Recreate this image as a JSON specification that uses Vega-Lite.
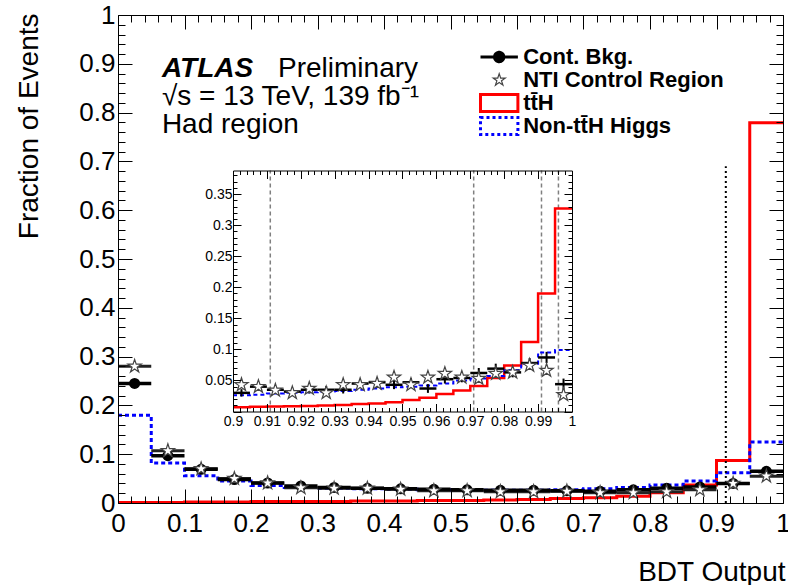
{
  "$schema": "https://vega.github.io/schema/vega-lite/v6.json",
  "width": 665,
  "height": 488,
  "autosize": {"type": "none"},
  "padding": {"left": 118, "top": 15, "right": 5, "bottom": 82},
  "background": "white",
  "config": {
    "font": "Liberation Sans",
    "view": {"stroke": null},
    "axis": {"grid": false, "domainColor": "black", "domainWidth": 1, "tickColor": "black", "tickWidth": 1, "labelColor": "black", "titleColor": "black", "labelFont": "Liberation Sans", "titleFont": "Liberation Sans", "titleFontWeight": "normal", "labelFlush": false, "labelOverlap": false, "labelBound": false}
  },
  "datasets": {
    "main": [
      {"series":"Cont. Bkg.","lo":0,"hi":0.05,"v":0.245},{"series":"Cont. Bkg.","lo":0.05,"hi":0.1,"v":0.097},{"series":"Cont. Bkg.","lo":0.1,"hi":0.15,"v":0.069},{"series":"Cont. Bkg.","lo":0.15,"hi":0.2,"v":0.048},{"series":"Cont. Bkg.","lo":0.2,"hi":0.25,"v":0.041},{"series":"Cont. Bkg.","lo":0.25,"hi":0.3,"v":0.035},{"series":"Cont. Bkg.","lo":0.3,"hi":0.35,"v":0.032},{"series":"Cont. Bkg.","lo":0.35,"hi":0.4,"v":0.030},{"series":"Cont. Bkg.","lo":0.4,"hi":0.45,"v":0.029},{"series":"Cont. Bkg.","lo":0.45,"hi":0.5,"v":0.028},{"series":"Cont. Bkg.","lo":0.5,"hi":0.55,"v":0.027},{"series":"Cont. Bkg.","lo":0.55,"hi":0.6,"v":0.026},{"series":"Cont. Bkg.","lo":0.6,"hi":0.65,"v":0.026},{"series":"Cont. Bkg.","lo":0.65,"hi":0.7,"v":0.025},{"series":"Cont. Bkg.","lo":0.7,"hi":0.75,"v":0.024},{"series":"Cont. Bkg.","lo":0.75,"hi":0.8,"v":0.027},{"series":"Cont. Bkg.","lo":0.8,"hi":0.85,"v":0.030},{"series":"Cont. Bkg.","lo":0.85,"hi":0.9,"v":0.033},{"series":"Cont. Bkg.","lo":0.9,"hi":0.95,"v":0.040},{"series":"Cont. Bkg.","lo":0.95,"hi":1,"v":0.065},
      {"series":"NTI Control Region","lo":0,"hi":0.05,"v":0.280},{"series":"NTI Control Region","lo":0.05,"hi":0.1,"v":0.107},{"series":"NTI Control Region","lo":0.1,"hi":0.15,"v":0.070},{"series":"NTI Control Region","lo":0.15,"hi":0.2,"v":0.050},{"series":"NTI Control Region","lo":0.2,"hi":0.25,"v":0.041},{"series":"NTI Control Region","lo":0.25,"hi":0.3,"v":0.031},{"series":"NTI Control Region","lo":0.3,"hi":0.35,"v":0.030},{"series":"NTI Control Region","lo":0.35,"hi":0.4,"v":0.030},{"series":"NTI Control Region","lo":0.4,"hi":0.45,"v":0.028},{"series":"NTI Control Region","lo":0.45,"hi":0.5,"v":0.025},{"series":"NTI Control Region","lo":0.5,"hi":0.55,"v":0.025},{"series":"NTI Control Region","lo":0.55,"hi":0.6,"v":0.023},{"series":"NTI Control Region","lo":0.6,"hi":0.65,"v":0.023},{"series":"NTI Control Region","lo":0.65,"hi":0.7,"v":0.024},{"series":"NTI Control Region","lo":0.7,"hi":0.75,"v":0.021},{"series":"NTI Control Region","lo":0.75,"hi":0.8,"v":0.021},{"series":"NTI Control Region","lo":0.8,"hi":0.85,"v":0.023},{"series":"NTI Control Region","lo":0.85,"hi":0.9,"v":0.027},{"series":"NTI Control Region","lo":0.9,"hi":0.95,"v":0.040},{"series":"NTI Control Region","lo":0.95,"hi":1,"v":0.055},
      {"series":"tt̄H","lo":0,"hi":0.05,"v":0.001},{"series":"tt̄H","lo":0.05,"hi":0.1,"v":0.001},{"series":"tt̄H","lo":0.1,"hi":0.15,"v":0.002},{"series":"tt̄H","lo":0.15,"hi":0.2,"v":0.002},{"series":"tt̄H","lo":0.2,"hi":0.25,"v":0.003},{"series":"tt̄H","lo":0.25,"hi":0.3,"v":0.003},{"series":"tt̄H","lo":0.3,"hi":0.35,"v":0.003},{"series":"tt̄H","lo":0.35,"hi":0.4,"v":0.004},{"series":"tt̄H","lo":0.4,"hi":0.45,"v":0.004},{"series":"tt̄H","lo":0.45,"hi":0.5,"v":0.005},{"series":"tt̄H","lo":0.5,"hi":0.55,"v":0.005},{"series":"tt̄H","lo":0.55,"hi":0.6,"v":0.006},{"series":"tt̄H","lo":0.6,"hi":0.65,"v":0.007},{"series":"tt̄H","lo":0.65,"hi":0.7,"v":0.009},{"series":"tt̄H","lo":0.7,"hi":0.75,"v":0.011},{"series":"tt̄H","lo":0.75,"hi":0.8,"v":0.014},{"series":"tt̄H","lo":0.8,"hi":0.85,"v":0.021},{"series":"tt̄H","lo":0.85,"hi":0.9,"v":0.037},{"series":"tt̄H","lo":0.9,"hi":0.95,"v":0.087},{"series":"tt̄H","lo":0.95,"hi":1,"v":0.779},
      {"series":"Non-tt̄H Higgs","lo":0,"hi":0.05,"v":0.180},{"series":"Non-tt̄H Higgs","lo":0.05,"hi":0.1,"v":0.082},{"series":"Non-tt̄H Higgs","lo":0.1,"hi":0.15,"v":0.056},{"series":"Non-tt̄H Higgs","lo":0.15,"hi":0.2,"v":0.045},{"series":"Non-tt̄H Higgs","lo":0.2,"hi":0.25,"v":0.036},{"series":"Non-tt̄H Higgs","lo":0.25,"hi":0.3,"v":0.032},{"series":"Non-tt̄H Higgs","lo":0.3,"hi":0.35,"v":0.030},{"series":"Non-tt̄H Higgs","lo":0.35,"hi":0.4,"v":0.029},{"series":"Non-tt̄H Higgs","lo":0.4,"hi":0.45,"v":0.028},{"series":"Non-tt̄H Higgs","lo":0.45,"hi":0.5,"v":0.027},{"series":"Non-tt̄H Higgs","lo":0.5,"hi":0.55,"v":0.026},{"series":"Non-tt̄H Higgs","lo":0.55,"hi":0.6,"v":0.026},{"series":"Non-tt̄H Higgs","lo":0.6,"hi":0.65,"v":0.026},{"series":"Non-tt̄H Higgs","lo":0.65,"hi":0.7,"v":0.027},{"series":"Non-tt̄H Higgs","lo":0.7,"hi":0.75,"v":0.029},{"series":"Non-tt̄H Higgs","lo":0.75,"hi":0.8,"v":0.032},{"series":"Non-tt̄H Higgs","lo":0.8,"hi":0.85,"v":0.037},{"series":"Non-tt̄H Higgs","lo":0.85,"hi":0.9,"v":0.045},{"series":"Non-tt̄H Higgs","lo":0.9,"hi":0.95,"v":0.062},{"series":"Non-tt̄H Higgs","lo":0.95,"hi":1,"v":0.125}
    ],
    "inset": [
      {"lo":0.9,"hi":0.905,"tth":0.007,"non":0.026,"bkg":0.030,"nti":0.043,"e":0.006},
      {"lo":0.905,"hi":0.91,"tth":0.0075,"non":0.027,"bkg":0.040,"nti":0.040,"e":0.006},
      {"lo":0.91,"hi":0.915,"tth":0.008,"non":0.029,"bkg":0.035,"nti":0.034,"e":0.006},
      {"lo":0.915,"hi":0.92,"tth":0.0085,"non":0.030,"bkg":0.032,"nti":0.030,"e":0.006},
      {"lo":0.92,"hi":0.925,"tth":0.009,"non":0.031,"bkg":0.035,"nti":0.037,"e":0.006},
      {"lo":0.925,"hi":0.93,"tth":0.0095,"non":0.032,"bkg":0.035,"nti":0.030,"e":0.006},
      {"lo":0.93,"hi":0.935,"tth":0.0105,"non":0.033,"bkg":0.035,"nti":0.043,"e":0.006},
      {"lo":0.935,"hi":0.94,"tth":0.012,"non":0.035,"bkg":0.045,"nti":0.043,"e":0.006},
      {"lo":0.94,"hi":0.945,"tth":0.013,"non":0.037,"bkg":0.047,"nti":0.045,"e":0.007},
      {"lo":0.945,"hi":0.95,"tth":0.015,"non":0.039,"bkg":0.043,"nti":0.055,"e":0.007},
      {"lo":0.95,"hi":0.955,"tth":0.0185,"non":0.040,"bkg":0.047,"nti":0.043,"e":0.007},
      {"lo":0.955,"hi":0.96,"tth":0.022,"non":0.042,"bkg":0.037,"nti":0.055,"e":0.007},
      {"lo":0.96,"hi":0.965,"tth":0.028,"non":0.045,"bkg":0.052,"nti":0.061,"e":0.007},
      {"lo":0.965,"hi":0.97,"tth":0.034,"non":0.050,"bkg":0.054,"nti":0.055,"e":0.007},
      {"lo":0.97,"hi":0.975,"tth":0.041,"non":0.053,"bkg":0.062,"nti":0.053,"e":0.008},
      {"lo":0.975,"hi":0.98,"tth":0.054,"non":0.057,"bkg":0.069,"nti":0.061,"e":0.008},
      {"lo":0.98,"hi":0.985,"tth":0.074,"non":0.067,"bkg":0.063,"nti":0.063,"e":0.008},
      {"lo":0.985,"hi":0.99,"tth":0.112,"non":0.077,"bkg":0.078,"nti":0.074,"e":0.008},
      {"lo":0.99,"hi":0.995,"tth":0.190,"non":0.095,"bkg":0.087,"nti":0.066,"e":0.009},
      {"lo":0.995,"hi":1,"tth":0.327,"non":0.099,"bkg":0.044,"nti":0.027,"e":0.009}
    ],
    "cut": [{"x": 0.914}],
    "insetCuts": [{"x": 0.911}, {"x": 0.971}, {"x": 0.991}, {"x": 0.996}]
  },
  "resolve": {"scale": {"x": "independent", "y": "independent"}},
  "layer": [
    {
      "data": {"name": "main"},
      "layer": [
        {
          "transform": [{"filter": "datum.series === 'tt̄H'"}, {"fold": ["lo", "hi"], "as": ["edge", "xe"]}],
          "mark": {"type": "line", "strokeWidth": 3},
          "encoding": {
            "x": {"field": "xe", "type": "quantitative", "scale": {"domain": [0, 1], "nice": false, "zero": false}, "axis": null},
            "y": {"field": "v", "type": "quantitative", "scale": {"domain": [0, 1], "nice": false, "zero": false}, "axis": null},
            "order": [{"field": "lo", "type": "quantitative"}, {"field": "edge", "type": "ordinal", "sort": "descending"}],
            "color": {"field": "series", "type": "nominal",
              "scale": {"domain": ["Cont. Bkg.", "NTI Control Region", "tt̄H", "Non-tt̄H Higgs"], "range": ["#000000", "#444444", "#ff0000", "#0000ff"]},
              "legend": {"orient": "none", "legendX": 360, "legendY": 31, "title": null, "padding": 0, "direction": "vertical",
                "labelFont": "Liberation Sans", "labelFontWeight": "bold", "labelFontSize": 22, "labelColor": "black", "labelLimit": 400,
                "symbolSize": 289, "symbolOffset": 10.2, "labelOffset": 13, "rowPadding": 1, "clipHeight": 22, "symbolStrokeWidth": 3,
                "encode": {"symbols": {"update": {
                  "shape": {"signal": "datum.value === 'Cont. Bkg.' ? 'M-2.2,0H2.2M-0.55,0A0.55,0.55,0,1,0,0.55,0A0.55,0.55,0,1,0,-0.55,0Z' : datum.value === 'NTI Control Region' ? 'M0,-0.75L0.169,-0.232L0.713,-0.232L0.272,0.089L0.441,0.607L0,0.287L-0.441,0.607L-0.272,0.089L-0.713,-0.232L-0.169,-0.232Z' : 'M-2.2,-1H2.2V1H-2.2Z'"},
                  "fill": {"signal": "datum.value === 'Cont. Bkg.' ? '#000000' : '#ffffff'"},
                  "fillOpacity": {"signal": "datum.value === 'Cont. Bkg.' ? 1 : 0"},
                  "stroke": {"signal": "datum.value === 'Cont. Bkg.' ? '#000000' : datum.value === 'NTI Control Region' ? '#444444' : datum.value === 'Non-tt̄H Higgs' ? '#0000ff' : '#ff0000'"},
                  "strokeWidth": {"signal": "datum.value === 'NTI Control Region' ? 1.2 : 3"},
                  "strokeDash": {"signal": "datum.value === 'Non-tt̄H Higgs' ? [3, 3] : [1, 0]"},
                  "opacity": {"value": 1}, "strokeOpacity": {"value": 1}
                }}}}
            }
          }
        },
        {
          "transform": [{"filter": "datum.series === 'Non-tt̄H Higgs'"}, {"fold": ["lo", "hi"], "as": ["edge", "xe"]}],
          "mark": {"type": "line", "strokeWidth": 3, "strokeDash": [4, 3]},
          "encoding": {
            "x": {"field": "xe", "type": "quantitative", "axis": null},
            "y": {"field": "v", "type": "quantitative", "axis": null},
            "order": [{"field": "lo", "type": "quantitative"}, {"field": "edge", "type": "ordinal", "sort": "descending"}],
            "color": {"field": "series", "type": "nominal"}
          }
        },
        {
          "data": {"name": "cut"},
          "mark": {"type": "rule", "color": "black", "strokeWidth": 2, "strokeDash": [2, 3]},
          "encoding": {
            "x": {"field": "x", "type": "quantitative", "axis": null},
            "y": {"datum": 0, "type": "quantitative", "axis": null},
            "y2": {"datum": 0.69}
          }
        },
        {
          "transform": [{"filter": "datum.series === 'NTI Control Region'"}],
          "mark": {"type": "rule", "color": "#222222", "strokeWidth": 3},
          "encoding": {
            "x": {"field": "lo", "type": "quantitative", "axis": null},
            "x2": {"field": "hi"},
            "y": {"field": "v", "type": "quantitative", "axis": null}
          }
        },
        {
          "transform": [{"filter": "datum.series === 'Cont. Bkg.'"}],
          "mark": {"type": "rule", "color": "black", "strokeWidth": 3.5},
          "encoding": {
            "x": {"field": "lo", "type": "quantitative", "axis": null},
            "x2": {"field": "hi"},
            "y": {"field": "v", "type": "quantitative", "axis": null}
          }
        },
        {
          "transform": [{"filter": "datum.series === 'Cont. Bkg.'"}, {"calculate": "(datum.lo + datum.hi) / 2", "as": "c"}],
          "mark": {"type": "point", "shape": "circle", "filled": true, "size": 121, "opacity": 1},
          "encoding": {
            "x": {"field": "c", "type": "quantitative", "axis": null},
            "y": {"field": "v", "type": "quantitative", "axis": null},
            "color": {"field": "series", "type": "nominal"}
          }
        },
        {
          "transform": [{"filter": "datum.series === 'NTI Control Region'"}, {"calculate": "(datum.lo + datum.hi) / 2", "as": "c"}],
          "mark": {"type": "point", "shape": "M0,-1L0.225,-0.309L0.951,-0.309L0.363,0.118L0.588,0.809L0,0.382L-0.588,0.809L-0.363,0.118L-0.951,-0.309L-0.225,-0.309Z", "filled": false, "fill": "white", "fillOpacity": 1, "size": 196, "strokeWidth": 1.2, "opacity": 1},
          "encoding": {
            "x": {"field": "c", "type": "quantitative", "axis": null},
            "y": {"field": "v", "type": "quantitative", "axis": null},
            "color": {"field": "series", "type": "nominal"}
          }
        },
        {
          "data": {"values": [{"t": "ATLAS"}]},
          "mark": {"type": "text", "align": "left", "baseline": "alphabetic", "fontSize": 28, "fontWeight": "bold", "fontStyle": "italic", "font": "Liberation Sans", "color": "black"},
          "encoding": {"x": {"datum": 0.066, "type": "quantitative", "axis": null}, "y": {"datum": 0.873, "type": "quantitative", "axis": null}, "text": {"field": "t"}}
        },
        {
          "data": {"values": [{"t": "Preliminary"}]},
          "mark": {"type": "text", "align": "left", "baseline": "alphabetic", "fontSize": 28, "font": "Liberation Sans", "color": "black"},
          "encoding": {"x": {"datum": 0.2406, "type": "quantitative", "axis": null}, "y": {"datum": 0.873, "type": "quantitative", "axis": null}, "text": {"field": "t"}}
        },
        {
          "data": {"values": [{"t": "√s = 13 TeV, 139 fb⁻¹"}]},
          "mark": {"type": "text", "align": "left", "baseline": "alphabetic", "fontSize": 28, "font": "Liberation Sans", "color": "black"},
          "encoding": {"x": {"datum": 0.066, "type": "quantitative", "axis": null}, "y": {"datum": 0.8156, "type": "quantitative", "axis": null}, "text": {"field": "t"}}
        },
        {
          "data": {"values": [{"t": "Had region"}]},
          "mark": {"type": "text", "align": "left", "baseline": "alphabetic", "fontSize": 28, "font": "Liberation Sans", "color": "black"},
          "encoding": {"x": {"datum": 0.066, "type": "quantitative", "axis": null}, "y": {"datum": 0.7576, "type": "quantitative", "axis": null}, "text": {"field": "t"}}
        }
      ]
    },
    {
      "data": {"name": "main"},
      "mark": {"type": "point", "opacity": 0},
      "encoding": {
        "x": {"field": "lo", "type": "quantitative", "scale": {"domain": [0, 1], "nice": false, "zero": false},
          "axis": {"orient": "bottom", "tickCount": 50, "zindex": 1,
            "labelExpr": "abs(datum.value*10-round(datum.value*10))<0.001 ? format(datum.value,'.1~f') : ''",
            "tickSize": {"condition": {"test": "abs(datum.value*10-round(datum.value*10))<0.001", "value": -14}, "value": -7},
            "labelFontSize": 26, "labelPadding": 21, "labelBaseline": "top", "labelAlign": "center",
            "title": "BDT Output", "titleFontSize": 28, "titleX": 667, "titleY": 77, "titleAlign": "right", "titleBaseline": "alphabetic", "titleAnchor": "end"}},
        "y": {"field": "v", "type": "quantitative", "scale": {"domain": [0, 1], "nice": false, "zero": false},
          "axis": {"orient": "left", "tickCount": 50, "zindex": 1,
            "labelExpr": "abs(datum.value*10-round(datum.value*10))<0.001 ? format(datum.value,'.1~f') : ''",
            "tickSize": {"condition": {"test": "abs(datum.value*10-round(datum.value*10))<0.001", "value": -14}, "value": -7},
            "labelFontSize": 26, "labelPadding": 17, "labelAlign": "right", "labelBaseline": "middle",
            "title": "Fraction of Events", "titleFontSize": 28, "titleAngle": 270, "titleAlign": "right", "titleBaseline": "alphabetic", "titleX": -81, "titleY": -2}}
      }
    },
    {
      "data": {"name": "main"},
      "mark": {"type": "point", "opacity": 0},
      "encoding": {
        "x": {"field": "lo", "type": "quantitative", "scale": {"domain": [0, 1], "nice": false, "zero": false},
          "axis": {"orient": "top", "tickCount": 50, "zindex": 1, "labels": false, "title": null,
            "tickSize": {"condition": {"test": "abs(datum.value*10-round(datum.value*10))<0.001", "value": -14}, "value": -7}}},
        "y": {"field": "v", "type": "quantitative", "scale": {"domain": [0, 1], "nice": false, "zero": false},
          "axis": {"orient": "right", "tickCount": 50, "zindex": 1, "labels": false, "title": null,
            "tickSize": {"condition": {"test": "abs(datum.value*10-round(datum.value*10))<0.001", "value": -14}, "value": -7}}}
      }
    },
    {
      "data": {"name": "inset"},
      "layer": [
        {
          "data": {"name": "insetCuts"},
          "mark": {"type": "rule", "color": "#808080", "strokeWidth": 1.5, "strokeDash": [4, 3]},
          "encoding": {
            "x": {"field": "x", "type": "quantitative", "scale": {"domain": [0.9, 1], "range": [115, 454], "nice": false, "zero": false}, "axis": null},
            "y": {"datum": 0, "type": "quantitative", "scale": {"domain": [0, 0.388], "range": [396.5, 155.5], "nice": false, "zero": false}, "axis": null},
            "y2": {"datum": 0.388}
          }
        },
        {
          "transform": [{"fold": ["lo", "hi"], "as": ["edge", "xe"]}],
          "mark": {"type": "line", "color": "#ff0000", "strokeWidth": 2.5},
          "encoding": {
            "x": {"field": "xe", "type": "quantitative", "axis": null},
            "y": {"field": "tth", "type": "quantitative", "axis": null},
            "order": [{"field": "lo", "type": "quantitative"}, {"field": "edge", "type": "ordinal", "sort": "descending"}]
          }
        },
        {
          "transform": [{"fold": ["lo", "hi"], "as": ["edge", "xe"]}],
          "mark": {"type": "line", "color": "#0000ff", "strokeWidth": 2, "strokeDash": [4, 3]},
          "encoding": {
            "x": {"field": "xe", "type": "quantitative", "axis": null},
            "y": {"field": "non", "type": "quantitative", "axis": null},
            "order": [{"field": "lo", "type": "quantitative"}, {"field": "edge", "type": "ordinal", "sort": "descending"}]
          }
        },
        {
          "mark": {"type": "rule", "color": "black", "strokeWidth": 2.5},
          "encoding": {
            "x": {"field": "lo", "type": "quantitative", "axis": null},
            "x2": {"field": "hi"},
            "y": {"field": "bkg", "type": "quantitative", "axis": null}
          }
        },
        {
          "transform": [{"calculate": "(datum.lo + datum.hi) / 2", "as": "c"}, {"calculate": "datum.bkg - datum.e", "as": "elo"}, {"calculate": "datum.bkg + datum.e", "as": "ehi"}],
          "mark": {"type": "rule", "color": "black", "strokeWidth": 2},
          "encoding": {
            "x": {"field": "c", "type": "quantitative", "axis": null},
            "y": {"field": "elo", "type": "quantitative", "axis": null},
            "y2": {"field": "ehi"}
          }
        },
        {
          "transform": [{"calculate": "(datum.lo + datum.hi) / 2", "as": "c"}],
          "mark": {"type": "point", "shape": "M0,-1L0.225,-0.309L0.951,-0.309L0.363,0.118L0.588,0.809L0,0.382L-0.588,0.809L-0.363,0.118L-0.951,-0.309L-0.225,-0.309Z", "filled": false, "fill": "white", "fillOpacity": 1, "stroke": "#444444", "size": 196, "strokeWidth": 1.2, "opacity": 1},
          "encoding": {
            "x": {"field": "c", "type": "quantitative", "axis": null},
            "y": {"field": "nti", "type": "quantitative", "axis": null}
          }
        }
      ]
    },
    {
      "data": {"name": "inset"},
      "mark": {"type": "point", "opacity": 0},
      "encoding": {
        "x": {"field": "lo", "type": "quantitative", "scale": {"domain": [0.9, 1], "range": [115, 454], "nice": false, "zero": false},
          "axis": {"orient": "bottom", "offset": -91.5, "tickCount": 50, "zindex": 1,
            "labelExpr": "abs(datum.value*100-round(datum.value*100))<0.001 ? format(datum.value,'.2~f') : ''",
            "tickSize": {"condition": {"test": "abs(datum.value*100-round(datum.value*100))<0.001", "value": -8}, "value": -4},
            "labelFontSize": 14, "labelPadding": 10.5, "labelBaseline": "top", "title": null}},
        "y": {"field": "tth", "type": "quantitative", "scale": {"domain": [0, 0.388], "range": [396.5, 155.5], "nice": false, "zero": false},
          "axis": {"orient": "left", "offset": -115, "tickCount": 39, "zindex": 1,
            "labelExpr": "datum.value > 0.001 && abs(datum.value*20-round(datum.value*20))<0.001 ? format(datum.value,'.2~f') : ''",
            "tickSize": {"condition": {"test": "abs(datum.value*20-round(datum.value*20))<0.001", "value": -8}, "value": -4},
            "labelFontSize": 14, "labelPadding": 9, "title": null}}
      }
    },
    {
      "data": {"name": "inset"},
      "mark": {"type": "point", "opacity": 0},
      "encoding": {
        "x": {"field": "lo", "type": "quantitative", "scale": {"domain": [0.9, 1], "range": [115, 454], "nice": false, "zero": false},
          "axis": {"orient": "top", "offset": -155.5, "tickCount": 50, "zindex": 1, "labels": false, "title": null,
            "tickSize": {"condition": {"test": "abs(datum.value*100-round(datum.value*100))<0.001", "value": -8}, "value": -4}}},
        "y": {"field": "tth", "type": "quantitative", "scale": {"domain": [0, 0.388], "range": [396.5, 155.5], "nice": false, "zero": false},
          "axis": {"orient": "right", "offset": -211, "tickCount": 39, "zindex": 1, "labels": false, "title": null,
            "tickSize": {"condition": {"test": "abs(datum.value*20-round(datum.value*20))<0.001", "value": -8}, "value": -4}}}
      }
    }
  ]
}
